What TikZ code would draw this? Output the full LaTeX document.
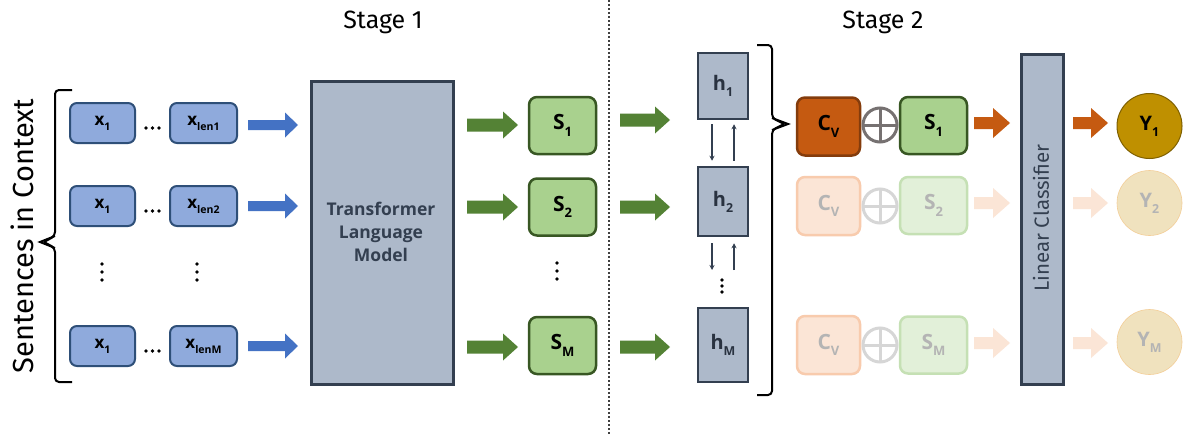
\documentclass[tikz,border=0pt]{standalone}
\usepackage{fontspec}
\setmainfont{Open Sans}
\newfontfamily\medfont{Fira Sans}
\usetikzlibrary{arrows.meta}
\definecolor{xfill}{HTML}{8FAADC}
\definecolor{xdraw}{HTML}{2E4F78}
\definecolor{bluearr}{HTML}{4472C4}
\definecolor{slatefill}{HTML}{ADB9CA}
\definecolor{slatedraw}{HTML}{333F50}
\definecolor{greenarr}{HTML}{548235}
\definecolor{sfill}{HTML}{A9D18E}
\definecolor{sdraw}{HTML}{385723}
\definecolor{cfill}{HTML}{C55A11}
\definecolor{cdraw}{HTML}{843C0C}
\definecolor{oplus}{HTML}{767171}
\definecolor{fadecfill}{HTML}{FBE5D6}
\definecolor{fadecdraw}{HTML}{F8CBAD}
\definecolor{fadesfill}{HTML}{E2F0D9}
\definecolor{fadesdraw}{HTML}{C5E0B4}
\definecolor{fadetext}{HTML}{B4B4B4}
\definecolor{fadeplus}{HTML}{D6D6D6}
\definecolor{yfill}{HTML}{BF9000}
\definecolor{ydraw}{HTML}{7F6000}
\definecolor{fadeyfill}{HTML}{F0E2BE}
\newcommand{\lsub}[1]{\raisebox{-0.3em}{\scalebox{0.62}{#1}}}
\newcommand{\blockarrow}[7]{%
  \fill[#1] (#2,#4-#5) -- (#3-#7,#4-#5) -- (#3-#7,#4-#6) -- (#3,#4) -- (#3-#7,#4+#6) -- (#3-#7,#4+#5) -- (#2,#4+#5) -- cycle;}
\newcommand{\vdotsat}[2]{%
  \fill (#1,#2-8) circle (1.8); \fill (#1,#2) circle (1.8); \fill (#1,#2+8) circle (1.8);}
\begin{document}
\begin{tikzpicture}[x=1pt,y=-1pt,
  xbox/.style={draw=xdraw, fill=xfill, line width=2pt, rounded corners=7pt, minimum height=40pt, font=\bfseries\fontsize{17}{17}\selectfont},
  sbox/.style={draw=sdraw, fill=sfill, line width=2.5pt, rounded corners=8pt, minimum width=67pt, minimum height=57pt, font=\bfseries\fontsize{21}{21}\selectfont},
  fsbox/.style={draw=fadesdraw, fill=fadesfill, line width=2.5pt, rounded corners=8pt, minimum width=67pt, minimum height=57pt, text=fadetext, font=\bfseries\fontsize{21}{21}\selectfont},
  hbox/.style={draw=slatedraw, fill=slatefill, line width=2.5pt, minimum width=50pt, font=\bfseries\fontsize{20}{20}\selectfont, text=slatedraw!80!black},
  cbox/.style={draw=cdraw, fill=cfill, line width=2.5pt, rounded corners=8pt, minimum width=63pt, minimum height=58pt, font=\bfseries\fontsize{21}{21}\selectfont},
  fcbox/.style={draw=fadecdraw, fill=fadecfill, line width=2.5pt, rounded corners=8pt, minimum width=63pt, minimum height=58pt, text=fadetext, font=\bfseries\fontsize{21}{21}\selectfont},
  plusnode/.style={circle, draw=#1, line width=3pt, minimum size=34pt, inner sep=0pt,
    path picture={\draw[#1, line width=3pt] (path picture bounding box.north) -- (path picture bounding box.south) (path picture bounding box.west) -- (path picture bounding box.east);}},
  ynode/.style={circle, draw=ydraw, fill=yfill, line width=1pt, minimum size=65pt, inner sep=0pt, font=\bfseries\fontsize{20}{20}\selectfont},
  fynode/.style={circle, draw=fadeyfill!80!orange, fill=fadeyfill, line width=0.6pt, minimum size=65pt, inner sep=0pt, text=fadetext, font=\bfseries\fontsize{20}{20}\selectfont},
  small/.style={-{Stealth[length=5pt,width=5pt]}, line width=1.3pt, draw=slatedraw},
  title/.style={font=\medfont\fontsize{25}{25}\selectfont}
]
\useasboundingbox (0,0) rectangle (1183,434);
\fill[white] (0,0) rectangle (1183,434);

% titles
\node[title] (st1) at (383,22) {Stage 1};
\node[title] (st2) at (883,22) {Stage 2};
\node[rotate=90, font=\medfont\fontsize{29}{29}\selectfont] (sic) at (22,236) {Sentences in Context};

% left brace
\draw[line width=2pt, rounded corners=4pt] (72,90) -- (55,90) -- (55,236) -- (44,242);
\draw[line width=2pt, rounded corners=4pt] (72,382) -- (55,382) -- (55,248) -- (44,242);
\draw[line width=2pt] (55,236) -- (40,242) -- (55,248);

% input boxes
\foreach \r/\yy/\lab in {1/123/len1, 2/206/len2, M/346/lenM}{
  \node[xbox, minimum width=65pt] (xa\r) at (102.5,\yy) {x\lsub{1}};
  \node[xbox, minimum width=67pt] (xb\r) at (203.5,\yy) {x\lsub{\lab}};
  \fill (146,\yy+5) circle (1.8); \fill (152.5,\yy+5) circle (1.8); \fill (159,\yy+5) circle (1.8);
}
\vdotsat{102}{272}
\vdotsat{197}{272}
\blockarrow{bluearr}{248}{298}{125}{5}{12.5}{13}
\blockarrow{bluearr}{248}{298}{206}{5}{12.5}{13}
\blockarrow{bluearr}{248}{298}{346}{5}{12.5}{13}

% transformer
\node[draw=slatedraw, fill=slatefill, line width=3pt, minimum width=142pt, minimum height=303pt, anchor=north west] (tlm) at (310,80) {};
\node[align=center, font=\bfseries\fontsize{17.5}{23}\selectfont, text=slatedraw] (tlmtext) at (381,232) {Transformer\\Language\\Model};

\blockarrow{greenarr}{467}{518}{125}{6.5}{13.5}{15}
\blockarrow{greenarr}{467}{518}{207}{6.5}{13.5}{15}
\blockarrow{greenarr}{467}{518}{347}{6.5}{13.5}{15}

\node[sbox] (s1) at (562.5,125.5) {S\lsub{1}};
\node[sbox] (s2) at (562.5,207) {S\lsub{2}};
\node[sbox] (sM) at (562.5,345.5) {S\lsub{M}};
\vdotsat{557}{271}

% separator
\draw[line width=2pt, dash pattern=on 2pt off 2pt, draw=black!75] (609,0) -- (609,434);

% stage 2
\blockarrow{greenarr}{620}{670}{120}{6.5}{13.5}{15}
\blockarrow{greenarr}{620}{670}{207}{6.5}{13.5}{15}
\blockarrow{greenarr}{620}{670}{347}{6.5}{13.5}{15}

\node[hbox, minimum height=66pt] (h1) at (723,86) {h\lsub{1}};
\node[hbox, minimum height=69pt] (h2) at (723,201.5) {h\lsub{2}};
\node[hbox, minimum height=74pt] (hM) at (723,345) {h\lsub{M}};
\coordinate (hd) at (723,270);
\fill[black] (722,280) circle (1.8); \fill[black] (722,286) circle (1.8); \fill[black] (722,292) circle (1.8);

\draw[small] ([xshift=-11pt,yshift=-4pt]h1.south) -- ([xshift=-11pt,yshift=5pt]h2.north);
\draw[small] ([xshift=11pt,yshift=5pt]h2.north) -- ([xshift=11pt,yshift=-4pt]h1.south);
\draw[small] ([xshift=-11pt,yshift=-6pt]h2.south) -- ([xshift=-11pt]hd);
\draw[small] ([xshift=11pt]hd) -- ([xshift=11pt,yshift=-6pt]h2.south);

% right brace
\draw[line width=2pt, rounded corners=4pt] (757,45) -- (772,45) -- (772,118) -- (784,124);
\draw[line width=2pt, rounded corners=4pt] (757,395) -- (772,395) -- (772,130) -- (784,124);
\draw[line width=2pt] (772,118) -- (788,124) -- (772,130);

% concat rows
\node[cbox] (c1) at (828.5,126.5) {C\lsub{V}};
\node[fcbox] (c2) at (828.5,206) {C\lsub{V}};
\node[fcbox] (cM) at (828.5,345) {C\lsub{V}};
\node[plusnode=oplus] (p1) at (880,125) {};
\node[plusnode=fadeplus] (p2) at (880,206) {};
\node[plusnode=fadeplus] (pM) at (880,345) {};
\node[sbox] (t1) at (933.5,125.5) {S\lsub{1}};
\node[fsbox] (t2) at (933.5,205.5) {S\lsub{2}};
\node[fsbox] (tM) at (933.5,345) {S\lsub{M}};

\blockarrow{cfill}{974}{1010}{123}{6}{15}{17}
\blockarrow{fadecfill}{974}{1010}{203}{6}{15}{17}
\blockarrow{fadecfill}{974}{1010}{343}{6}{15}{17}

\node[draw=slatedraw, fill=slatefill, line width=3pt, minimum width=42pt, minimum height=330pt, anchor=north west] (lc) at (1020,53) {};
\node[rotate=90, font=\medfont\fontsize{20.5}{20.5}\selectfont, text=slatedraw] (lctext) at (1041,218) {Linear Classifier};

\blockarrow{cfill}{1073}{1108}{123}{6}{15}{17}
\blockarrow{fadecfill}{1073}{1108}{203}{6}{15}{17}
\blockarrow{fadecfill}{1073}{1108}{343}{6}{15}{17}

\node[ynode] (y1) at (1149.5,126) {Y\lsub{1}};
\node[fynode] (y2) at (1149.5,203) {Y\lsub{2}};
\node[fynode] (yM) at (1149.5,342) {Y\lsub{M}};
\end{tikzpicture}
\end{document}
